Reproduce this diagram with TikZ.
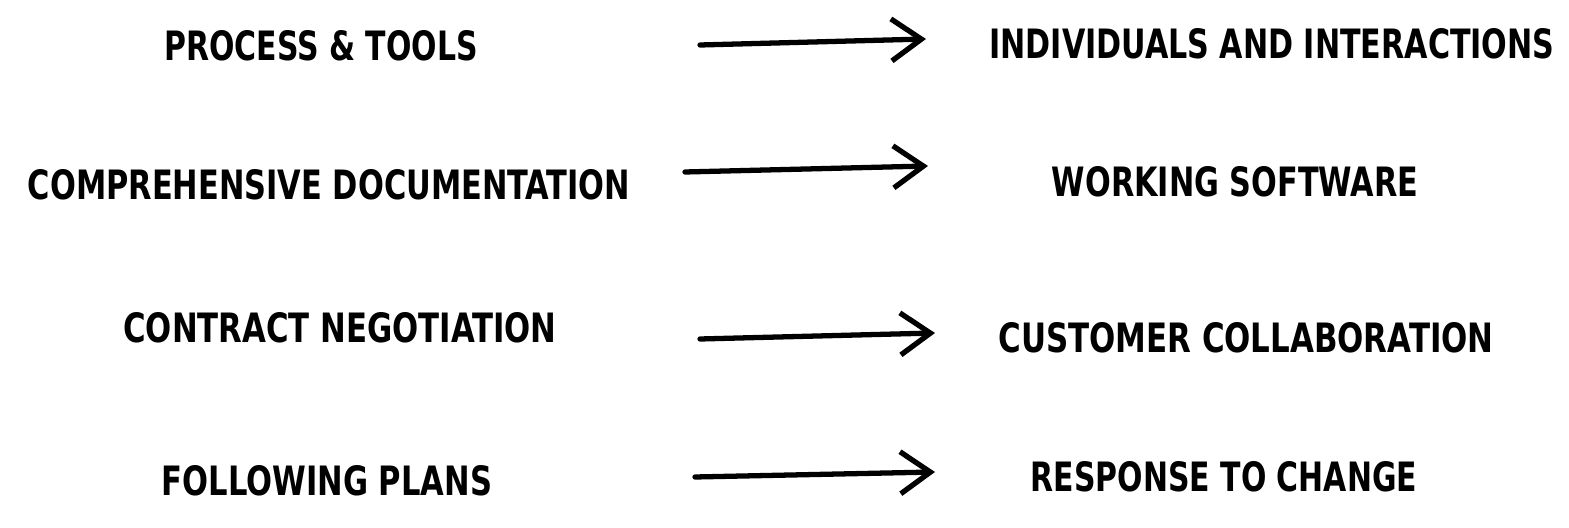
\documentclass[tikz,border=0pt]{standalone}
\usepackage{fontspec}
\setmainfont{DejaVu Sans Condensed}
\usetikzlibrary{arrows.meta}
\newcommand\fitw[2]{\resizebox{#1}{\height}{#2}}
\tikzset{
  lbl/.style={font=\bfseries\fontsize{11.5}{13}\selectfont, inner sep=0pt, anchor=center},
  arr/.style={line width=1.5pt, line cap=round, line join=round, -{Straight Barb[length=3mm,width=4.2mm,line width=1.5pt]}}
}
\begin{document}
\begin{tikzpicture}[x=0.01cm,y=-0.01cm]
\useasboundingbox[fill=white] (0,0) rectangle (1569,528);
\node[lbl] (l1) at (321,46) {\fitw{3.13cm}{PROCESS \& TOOLS}};
\node[lbl] (l2) at (329,185) {\fitw{6.02cm}{COMPREHENSIVE DOCUMENTATION}};
\node[lbl] (l3) at (340,328) {\fitw{4.33cm}{CONTRACT NEGOTIATION}};
\node[lbl] (l4) at (327,481) {\fitw{3.30cm}{FOLLOWING PLANS}};
\node[lbl] (r1) at (1272,44) {\fitw{5.65cm}{INDIVIDUALS AND INTERACTIONS}};
\node[lbl] (r2) at (1235,182) {\fitw{3.66cm}{WORKING SOFTWARE}};
\node[lbl] (r3) at (1246,338) {\fitw{4.95cm}{CUSTOMER COLLABORATION}};
\node[lbl] (r4) at (1224,477) {\fitw{3.86cm}{RESPONSE TO CHANGE}};
\coordinate (a1s) at (700,45); \coordinate (a1e) at (926,39);
\coordinate (a2s) at (685,172); \coordinate (a2e) at (928,166);
\coordinate (a3s) at (700,339); \coordinate (a3e) at (935,333);
\coordinate (a4s) at (695,477); \coordinate (a4e) at (935,472);
\draw[arr] (a1s) -- (a1e);
\draw[arr] (a2s) -- (a2e);
\draw[arr] (a3s) -- (a3e);
\draw[arr] (a4s) -- (a4e);
\end{tikzpicture}
\end{document}
